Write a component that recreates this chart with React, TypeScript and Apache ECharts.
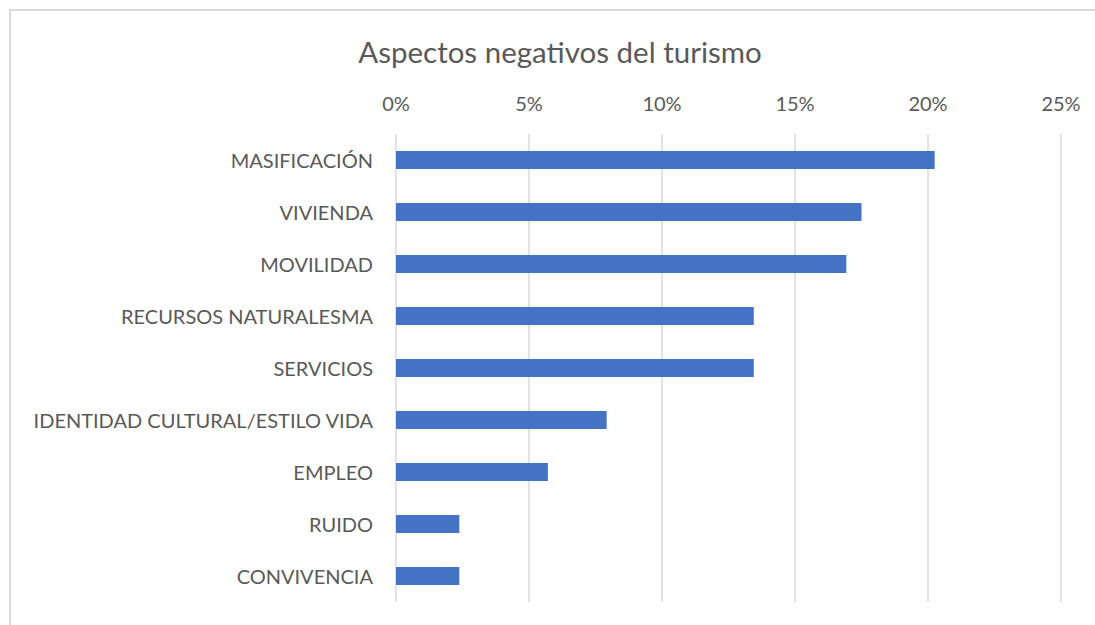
import React, { useEffect, useRef } from "react";
import * as echarts from "echarts";

const titleText = "Aspectos negativos del turismo";
const categories = [
  "MASIFICACIÓN",
  "VIVIENDA",
  "MOVILIDAD",
  "RECURSOS NATURALESMA",
  "SERVICIOS",
  "IDENTIDAD CULTURAL/ESTILO VIDA",
  "EMPLEO",
  "RUIDO",
  "CONVIVENCIA",
];
const values = [20.25, 17.5, 16.93, 13.45, 13.45, 7.92, 5.71, 2.38, 2.38];
const axisMax = 25;
const axisStep = 5;

const FONT = "Lato, 'Open Sans', sans-serif";
const TEXT = "#595959";

export default function App() {
  const ref = useRef<HTMLDivElement>(null);
  useEffect(() => {
    if (!ref.current) return;
    const chart = echarts.init(ref.current, null, { renderer: "svg" });
    chart.setOption({
      animation: false,
      backgroundColor: "#ffffff",
      textStyle: { fontFamily: FONT },
      graphic: [
        {
          type: "rect",
          shape: { x: 10, y: 10, width: 1100, height: 640 },
          style: { fill: "none", stroke: "#d9d9d9", lineWidth: 2 },
          silent: true,
        },
        {
          type: "text",
          x: 560,
          y: 51,
          style: {
            text: titleText,
            fill: TEXT,
            font: `29.5px ${FONT}`,
            textAlign: "center",
            textVerticalAlign: "middle",
          },
        },
      ],
      grid: { left: 396, right: 34, top: 134, bottom: 23, containLabel: false },
      xAxis: {
        type: "value",
        position: "top",
        min: 0,
        max: axisMax,
        interval: axisStep,
        axisLine: { show: false },
        axisTick: { show: false },
        splitLine: { show: true, lineStyle: { color: "#d9d9d9", width: 1.5 } },
        axisLabel: {
          color: TEXT,
          fontSize: 20,
          fontFamily: FONT,
          margin: 21,
          formatter: (v: number) => `${v}%`,
        },
      },
      yAxis: {
        type: "category",
        inverse: true,
        data: categories,
        axisLine: { show: false },
        axisTick: { show: false },
        axisLabel: { color: TEXT, fontSize: 20, fontFamily: FONT, margin: 23 },
      },
      series: [
        {
          type: "bar",
          data: values,
          barWidth: 18,
          itemStyle: { color: "#4472C4" },
        },
      ],
    });
    return () => chart.dispose();
  }, []);
  return (
    <div
      ref={ref}
      style={{ position: "absolute", left: 0, top: 0, width: 1095, height: 625 }}
    />
  );
}
